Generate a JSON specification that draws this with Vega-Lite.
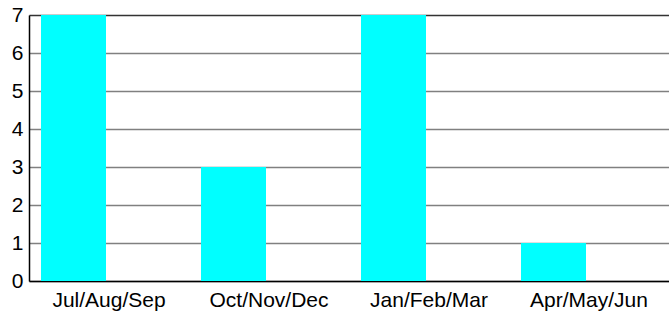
{
  "$schema": "https://vega.github.io/schema/vega-lite/v6.json",
  "autosize": "none",
  "width": 640,
  "height": 266,
  "padding": {"left": 29, "top": 15, "right": 0, "bottom": 32},
  "background": "white",
  "data": {"values": [
    {"q": "Jul/Aug/Sep", "s": "a", "v": 7},
    {"q": "Oct/Nov/Dec", "s": "a", "v": 3},
    {"q": "Jan/Feb/Mar", "s": "a", "v": 7},
    {"q": "Apr/May/Jun", "s": "a", "v": 1}
  ]},
  "config": {"view": {"stroke": null}},
  "mark": {"type": "bar", "color": "#00FFFF"},
  "encoding": {
    "x": {"field": "q", "type": "nominal", "sort": null,
      "scale": {"paddingInner": 0, "paddingOuter": 0},
      "axis": {"title": null, "labelAngle": 0, "labelFont": "Liberation Sans", "labelFontSize": 21, "labelColor": "#000", "labelPadding": 8, "ticks": false, "domainColor": "#000", "domainWidth": 1.5, "grid": false}},
    "xOffset": {"field": "s", "type": "nominal", "scale": {"domain": ["a", "b"], "range": [12, 142], "paddingInner": 0, "paddingOuter": 0}},
    "y": {"field": "v", "type": "quantitative",
      "scale": {"domain": [0, 7], "nice": false},
      "axis": {"title": null, "values": [0,1,2,3,4,5,6,7], "labelFont": "Liberation Sans", "labelFontSize": 21, "labelColor": "#000", "labelPadding": 6, "ticks": false, "domainColor": "#000", "domainWidth": 1.5, "grid": true, "gridColor": {"condition": {"test": "datum.value == 7", "value": "#333333"}, "value": "#808080"}, "gridWidth": 1.5, "gridOpacity": 1}}
  }
}
